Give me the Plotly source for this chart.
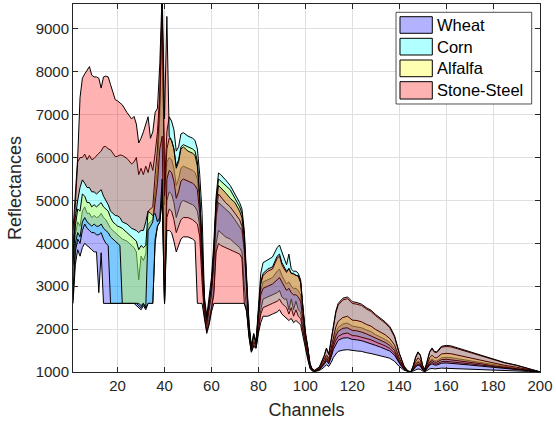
import plotly.graph_objects as go

# ---------------- data ----------------
channels = [
    1, 2, 3, 4, 5, 6, 7, 8, 9, 10, 11, 12, 13, 14, 15, 16, 17, 18, 19, 20, 21, 22,
    24, 26, 27, 28, 29, 30, 31, 32, 33, 34, 35,
    36, 37, 38, 39, 40, 41, 42, 43, 44, 45, 46, 47, 48,
    50, 52, 53, 54, 55, 56, 57, 58, 59, 60, 61, 62, 63, 64,
    66, 68, 70, 72, 73, 74, 75, 76, 77, 78, 79, 80, 81, 82,
    84, 86, 88, 89, 90, 91, 92, 93, 94, 95, 96, 97, 98, 99, 100, 101, 102, 103, 104,
    106, 108, 109, 110, 111, 112, 113, 114, 116, 118, 120, 122, 124, 126, 128, 130, 132, 134, 136, 138, 140,
    141, 142, 143, 144, 145, 146, 147, 148, 149, 150, 151, 152, 153, 154, 155, 156, 157, 158,
    160, 162, 165, 168, 170, 175, 180, 185, 190, 195, 200,
]

steel_upper = [
    4300, 5100, 6000, 7400, 7850, 7950, 8030, 8120, 7920, 7880, 7880, 7850, 7620, 7880, 7900, 7880, 7700, 7500, 7350, 7320, 7280, 7230,
    7050, 6900, 6960, 6780, 6340, 6450, 6600, 6750, 6950, 6450, 6600,
    7050, 7150, 8200, 9900, 6900, 9290, 6500, 6400, 6200, 5750, 5900, 6200, 6250,
    6150, 6100, 6050, 5800, 5050, 4000, 2650, 2250, 2600, 3000, 3800, 4900, 5350, 5300,
    5180, 5050, 4950, 4750, 4600, 4100, 3050, 2050, 1560, 1850, 1650, 2400, 3100, 3300,
    3400, 3450, 3700, 3750, 3550, 3450, 3350, 3400, 3300, 3300, 3250, 3250, 3100, 2450, 1900, 1580, 1180, 1060, 1040,
    1120, 1380, 1560, 1420, 1750, 2150, 2420, 2600, 2720, 2750, 2640, 2620, 2580, 2500, 2440, 2340, 2260, 2170, 2060, 1850, 1450,
    1280, 1150, 1070, 1020, 1010, 1150, 1350, 1470, 1400, 1150, 1060, 1250, 1480, 1560, 1480, 1470, 1550, 1600,
    1620, 1610, 1560, 1510, 1480, 1400, 1300, 1220, 1160, 1090, 1010,
]
steel_lower = [
    3700, 4600, 5000, 5300, 5480, 5400, 5300, 5300, 5200, 5200, 5150, 5200, 5250, 5100, 5000, 4900, 4750, 4700, 4650, 4640, 4600, 4500,
    4450, 4350, 4320, 4300, 4250, 4300, 4300, 4500, 4750, 4700, 4650,
    4700, 4500, 4600, 5500, 2600, 4300, 4300, 4250, 4050, 3800, 3950, 4100, 4150,
    4150, 4100, 4050, 2600, 2600, 2600, 2300, 1900, 2100, 2400, 2600, 2600, 2600, 2600,
    2600, 2600, 2600, 2600, 2600, 2600, 2400, 1800, 1460, 1600, 1550, 1900, 2150, 2300,
    2300, 2350, 2400, 2450, 2350, 2300, 2250, 2200, 2250, 2150, 2200, 2150, 2100, 1850, 1550, 1300, 1080, 1020, 1018,
    1055, 1175, 1260, 1190, 1350, 1530, 1650, 1740, 1790, 1800, 1760, 1750, 1730, 1690, 1660, 1620, 1580, 1540, 1490, 1390, 1210,
    1130, 1070, 1032, 1009, 1005, 1051, 1119, 1160, 1136, 1051, 1020, 1085, 1163, 1190, 1163, 1160, 1187, 1204,
    1211, 1207, 1190, 1173, 1163, 1136, 1102, 1075, 1054, 1031, 1003,
]
corn_upper = [
    3900, 5000, 5900, 6000, 6000, 6080, 5950, 6050, 5950, 5980, 6050, 6100, 6150, 6250, 6260, 6200, 6180, 6100, 6020, 6030, 6060, 6050,
    5980, 5850, 5900, 6000, 5600, 5750, 5600, 5800, 5650, 5900, 5700,
    6100, 6600, 7500, 9700, 5300, 6600, 6950, 6850, 6650, 6150, 6250, 6550, 6580,
    6500, 6450, 6400, 6200, 5600, 4700, 2750, 2300, 2700, 3200, 4000, 5100, 5640, 5600,
    5480, 5350, 5150, 4950, 4800, 4300, 3200, 2150, 1600, 1900, 1700, 2500, 3300, 3550,
    3620, 3680, 3900, 3960, 3800, 3650, 3500, 3750, 3400, 3350, 3350, 3300, 3150, 2500, 1950, 1600, 1200, 1060, 1035,
    1110, 1360, 1540, 1400, 1720, 2110, 2380, 2560, 2680, 2710, 2600, 2580, 2550, 2470, 2410, 2310, 2230, 2140, 2030, 1820, 1430,
    1265, 1140, 1060, 1015, 1008, 1144, 1336, 1451, 1384, 1144, 1058, 1240, 1461, 1538, 1461, 1451, 1528, 1576,
    1595, 1586, 1538, 1490, 1461, 1384, 1288, 1211, 1154, 1086, 1010,
]
corn_lower = [
    2700, 3800, 4100, 4000, 4300, 4450, 4350, 4300, 4250, 4250, 4200, 4200, 4250, 4100, 4000, 3950, 2600, 2600, 2600, 2600, 2600, 2600,
    2600, 2600, 2600, 2600, 2550, 2500, 2600, 2500, 2600, 2600, 2600,
    4100, 4400, 4500, 5200, 2600, 4600, 4800, 4750, 4550, 4250, 4400, 4550, 4600,
    4600, 4550, 4500, 4450, 4150, 3100, 2300, 1950, 2150, 2450, 2800, 3800, 4000, 3950,
    3900, 3850, 3800, 3750, 3650, 2600, 2450, 1850, 1480, 1620, 1560, 2000, 2350, 2500,
    2550, 2600, 2650, 2700, 2600, 2550, 2500, 2350, 2500, 2300, 2450, 2300, 2250, 1950, 1650, 1380, 1100, 1030, 1020,
    1060, 1200, 1290, 1220, 1390, 1600, 1740, 1830, 1890, 1910, 1850, 1840, 1820, 1780, 1750, 1700, 1650, 1610, 1550, 1440, 1230,
    1150, 1080, 1036, 1010, 1005, 1060, 1140, 1188, 1160, 1060, 1024, 1100, 1192, 1224, 1192, 1188, 1220, 1240,
    1248, 1244, 1224, 1204, 1192, 1160, 1120, 1088, 1064, 1036, 1004,
]
alfalfa_upper = [
    3500, 4400, 4800, 4750, 5150, 5100, 4950, 4950, 4850, 4900, 4850, 4900, 4950, 4850, 4800, 4750, 4600, 4500, 4450, 4400, 4380, 4350,
    4250, 4150, 4100, 4050, 3850, 3950, 3900, 3950, 4750, 4800, 4850,
    5600, 6200, 7300, 9650, 5100, 6200, 6450, 6400, 6200, 5800, 5950, 6250, 6300,
    6250, 6200, 6150, 5900, 5100, 3900, 2650, 2200, 2550, 3000, 3800, 5000, 5500, 5450,
    5330, 5250, 5050, 4850, 4700, 4200, 3100, 2100, 1580, 1880, 1680, 2350, 3050, 3250,
    3350, 3400, 3650, 3700, 3500, 3400, 3320, 3420, 3300, 3280, 3250, 3230, 3080, 2430, 1880, 1570, 1170, 1055, 1030,
    1090, 1280, 1400, 1310, 1550, 1850, 2050, 2180, 2270, 2300, 2210, 2200, 2170, 2110, 2070, 1990, 1930, 1870, 1780, 1630, 1330,
    1210, 1110, 1050, 1015, 1007, 1105, 1245, 1329, 1280, 1105, 1042, 1175, 1336, 1392, 1336, 1329, 1385, 1420,
    1434, 1427, 1392, 1357, 1336, 1280, 1210, 1154, 1112, 1063, 1007,
]
alfalfa_lower = [
    2800, 4000, 4250, 4150, 4500, 4600, 4500, 4450, 4400, 4450, 4400, 4400, 4450, 4350, 4300, 4250, 4150, 4100, 4050, 4000, 3950, 2600,
    2600, 2600, 2600, 2600, 2600, 2550, 2600, 2500, 4300, 4400, 4500,
    4900, 5400, 6200, 6500, 2600, 5500, 5700, 5650, 5450, 5050, 5200, 5450, 5500,
    5450, 5400, 5350, 5250, 4700, 3600, 2450, 2100, 2400, 2800, 3500, 4700, 5150, 5100,
    4950, 4850, 4700, 4550, 4400, 3900, 2900, 2000, 1530, 1700, 1600, 2200, 2800, 2950,
    3000, 3050, 3150, 3200, 3100, 3000, 2900, 2950, 2850, 2800, 2800, 2750, 2650, 2200, 1750, 1450, 1130, 1045, 1024,
    1070, 1220, 1330, 1250, 1440, 1680, 1840, 1950, 2020, 2030, 1970, 1960, 1930, 1890, 1850, 1790, 1740, 1690, 1620, 1500, 1260,
    1165, 1090, 1040, 1012, 1006, 1072, 1168, 1226, 1192, 1072, 1029, 1120, 1230, 1269, 1230, 1226, 1264, 1288,
    1298, 1293, 1269, 1245, 1230, 1192, 1144, 1106, 1077, 1043, 1005,
]
wheat_upper = [
    3300, 4200, 4500, 4400, 4750, 4850, 4700, 4700, 4600, 4650, 4600, 4620, 4700, 4600, 4550, 4450, 4350, 4300, 4250, 4200, 4150, 4100,
    4050, 3950, 3900, 3800, 3150, 3700, 3600, 3750, 4450, 4500, 4550,
    5200, 5800, 7000, 9600, 4900, 5900, 6000, 5950, 5750, 5350, 5500, 5750, 5800,
    5750, 5700, 5650, 5500, 4900, 3800, 2550, 2150, 2500, 2900, 3600, 4600, 4950, 4900,
    4800, 4700, 4550, 4400, 4300, 3800, 2850, 1950, 1550, 1750, 1620, 2250, 2900, 3100,
    3150, 3200, 3350, 3400, 3250, 3150, 3050, 3100, 3000, 2950, 2950, 2900, 2800, 2300, 1800, 1500, 1150, 1050, 1026,
    1080, 1250, 1360, 1270, 1490, 1750, 1920, 2040, 2120, 2140, 2070, 2050, 2030, 1980, 1940, 1870, 1820, 1760, 1690, 1550, 1290,
    1180, 1100, 1045, 1013, 1006, 1083, 1193, 1259, 1220, 1083, 1033, 1138, 1264, 1308, 1264, 1259, 1303, 1330,
    1341, 1336, 1308, 1281, 1264, 1220, 1165, 1121, 1088, 1050, 1006,
]
wheat_lower = [
    2600, 3500, 3850, 3700, 3900, 4000, 3950, 3900, 3850, 3800, 3800, 2850, 3780, 2600, 2600, 2600, 2600, 2600, 2600, 2600, 2600, 2600,
    2600, 2600, 2600, 2550, 2500, 2450, 2550, 2450, 2600, 2600, 2600,
    4000, 4400, 4500, 5000, 2600, 5000, 5200, 5150, 4950, 4600, 4750, 4950, 5000,
    4950, 4900, 4850, 4750, 4400, 3300, 2350, 2000, 2250, 2500, 2900, 4000, 4300, 4250,
    4150, 4100, 4000, 3900, 3800, 3000, 2500, 1900, 1500, 1650, 1580, 2050, 2450, 2700,
    2750, 2800, 2850, 2900, 2750, 2700, 2700, 2450, 2700, 2450, 2650, 2450, 2400, 2000, 1700, 1400, 1110, 1035, 1012,
    1035, 1110, 1170, 1130, 1220, 1340, 1420, 1480, 1510, 1520, 1500, 1490, 1480, 1450, 1430, 1400, 1380, 1350, 1320, 1250, 1130,
    1085, 1045, 1020, 1006, 1003, 1023, 1053, 1071, 1060, 1023, 1009, 1038, 1072, 1084, 1072, 1071, 1083, 1090,
    1093, 1092, 1084, 1077, 1072, 1060, 1045, 1033, 1024, 1014, 1002,
]

class_names = ["Wheat", "Corn", "Alfalfa", "Stone-Steel"]
class_colors = ["rgba(0,0,255,0.3)", "rgba(0,255,255,0.3)", "rgba(255,255,0,0.3)", "rgba(255,0,0,0.3)"]
x_ticks = [20, 40, 60, 80, 100, 120, 140, 160, 180, 200]
y_ticks = [1000, 2000, 3000, 4000, 5000, 6000, 7000, 8000, 9000]

uppers = [wheat_upper, corn_upper, alfalfa_upper, steel_upper]
lowers = [wheat_lower, corn_lower, alfalfa_lower, steel_lower]
for arr in uppers + lowers:
    assert len(arr) == len(channels), (len(arr), len(channels))

# ---------------- figure ----------------
fig = go.Figure()
for name, col, up, lo in zip(class_names, class_colors, uppers, lowers):
    fig.add_trace(go.Scatter(
        x=channels + channels[::-1],
        y=up + lo[::-1],
        mode="lines", fill="toself", fillcolor=col,
        line=dict(color="black", width=1),
        name=name, showlegend=False, hoverinfo="skip",
    ))

FONT = "Liberation Sans, Arial, Helvetica, sans-serif"
AX = "#262626"

fig.update_layout(
    width=556, height=424,
    margin=dict(l=73, r=16, t=4, b=52),
    paper_bgcolor="white", plot_bgcolor="white",
    font=dict(family=FONT, size=15, color=AX),
    xaxis=dict(
        range=[1, 200], tickvals=x_ticks, ticktext=[str(v) for v in x_ticks],
        showgrid=True, gridcolor="#dfdfdf", gridwidth=1, zeroline=False,
        showline=True, linecolor=AX, linewidth=1, mirror="ticks",
        ticks="inside", ticklen=5, tickcolor=AX,
        title=dict(text="Channels", font=dict(size=18), standoff=10),
    ),
    yaxis=dict(
        range=[1000, 9580], tickvals=y_ticks, ticktext=[str(v) for v in y_ticks],
        showgrid=True, gridcolor="#dfdfdf", gridwidth=1, zeroline=False,
        showline=True, linecolor=AX, linewidth=1, mirror="ticks",
        ticks="inside", ticklen=5, tickcolor=AX,
        title=dict(text="Reflectances", font=dict(size=18), standoff=9),
    ),
)

# legend (drawn as a boxed key in the upper right)
shapes = [dict(type="rect", xref="paper", yref="paper", x0=0.6917, x1=0.9822, y0=0.7283, y1=0.9774,
               fillcolor="white", line=dict(color=AX, width=0.8), layer="above")]
rows = [(0.9204, 0.9655), (0.8614, 0.9068), (0.8024, 0.8478), (0.7418, 0.7889)]
annots = []
for (y0, y1), name, col in zip(rows, class_names, class_colors):
    shapes.append(dict(type="rect", xref="paper", yref="paper", x0=0.7002, x1=0.7694, y0=y0, y1=y1,
                       fillcolor=col, line=dict(color="black", width=1), layer="above"))
    annots.append(dict(xref="paper", yref="paper", x=0.7752, y=(y0 + y1) / 2, text=name,
                       showarrow=False, xanchor="left", yanchor="middle",
                       font=dict(family=FONT, size=16.5, color="black")))
fig.update_layout(shapes=shapes, annotations=annots)

fig.write_html("out.html", config={"displayModeBar": False},
               post_script="document.body.style.margin='0';")
